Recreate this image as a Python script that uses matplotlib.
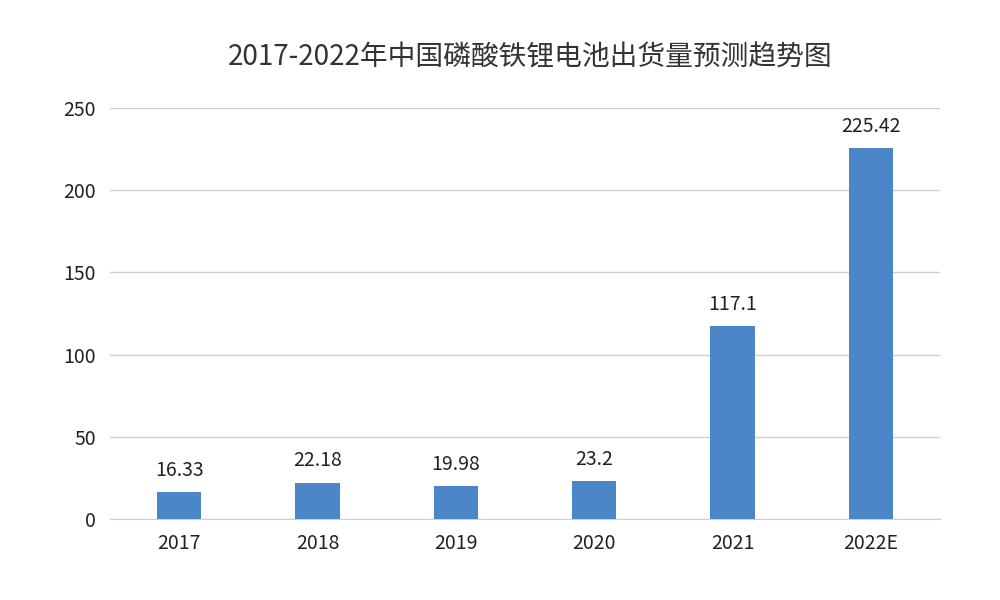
import matplotlib
matplotlib.use("Agg")
import matplotlib.pyplot as plt
from matplotlib import font_manager

# pick any installed CJK font
cjk = [f.name for f in font_manager.fontManager.ttflist if "CJK" in f.name]
plt.rcParams["font.family"] = "sans-serif"
plt.rcParams["font.sans-serif"] = ["Noto Sans CJK SC"] + cjk + ["DejaVu Sans"]

years = ["2017", "2018", "2019", "2020", "2021", "2022E"]
shipments = [16.33, 22.18, 19.98, 23.2, 117.1, 225.42]
labels = ["16.33", "22.18", "19.98", "23.2", "117.1", "225.42"]

fig = plt.figure(figsize=(10, 6), dpi=100)
ax = fig.add_axes([0.11, 0.135, 0.83, 0.685])
x = range(len(years))
bars = ax.bar(x, shipments, width=0.32, color="#4a86c8", zorder=3)
for b, t in zip(bars, labels):
    ax.annotate(t, (b.get_x() + b.get_width() / 2, b.get_height()),
                xytext=(0, 8), textcoords="offset points",
                ha="center", va="bottom", fontsize=14, color="#222222")
ax.set_xlim(-0.5, len(years) - 0.5)
ax.set_ylim(0, 250)
ax.set_yticks(range(0, 251, 50))
ax.set_xticks(list(x))
ax.set_xticklabels(years)
ax.tick_params(length=0, labelsize=14, colors="#222222", pad=10)
ax.yaxis.grid(True, color="#d0d0d0", lw=1, zorder=0)
for s in ["top", "right", "left"]:
    ax.spines[s].set_visible(False)
ax.spines["bottom"].set_color("#d0d0d0")
fig.text(0.53, 0.89, "2017-2022年中国磷酸铁锂电池出货量预测趋势图",
         ha="center", fontsize=20, color="#333333")
fig.savefig("out.png", dpi=100)
